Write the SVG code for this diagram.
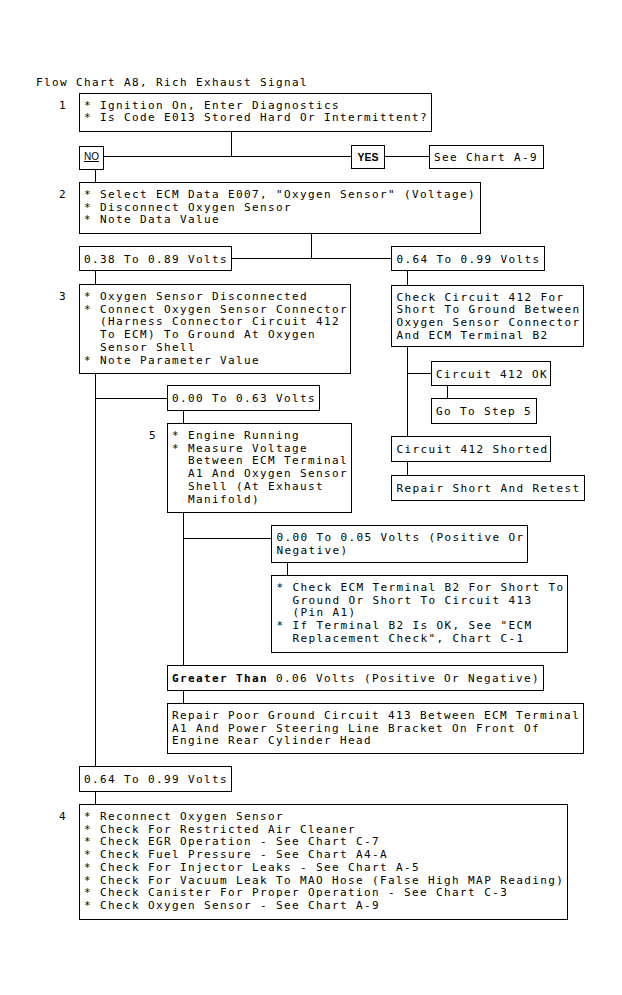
<svg xmlns="http://www.w3.org/2000/svg" width="622" height="995" viewBox="0 0 622 995">
<style>
  text { font-family: "DejaVu Sans Mono", "Liberation Mono", monospace; font-size: 11px; letter-spacing: 1.38px; fill: #000; }
  .box { fill: #fff; stroke: #000; stroke-width: 1; }
  .wire { fill: none; stroke: #000; stroke-width: 1; }
  .no { font-family: "Liberation Sans", Arial, sans-serif; font-size: 10px; letter-spacing: 0; text-decoration: underline; }
  .yes { font-family: "Liberation Sans", Arial, sans-serif; font-size: 10.5px; letter-spacing: 0; font-weight: bold; }
  .b { font-weight: bold; }
</style>
<rect x="0" y="0" width="622" height="995" fill="#fff"/>
<text id="title" x="36" y="85.5">Flow Chart A8, Rich Exhaust Signal</text>

<g id="connectors" class="wire">
  <path d="M231.5 131.5 V156.5"/>
  <path d="M103.5 156.5 H351.5"/>
  <path d="M384.5 156.5 H429.5"/>
  <path d="M95.5 169.5 V182.5"/>
  <path d="M311.5 233.5 V258.5"/>
  <path d="M231.5 258.5 H391.5"/>
  <path d="M95.5 270.5 V284.5"/>
  <path d="M407.5 270.5 V285.5"/>
  <path d="M407.5 346.5 V436.5"/>
  <path d="M407.5 373.5 H431.5"/>
  <path d="M447.5 385.5 V398.5"/>
  <path d="M407.5 461.5 V475.5"/>
  <path d="M95.5 373.5 V766.5"/>
  <path d="M95.5 398.5 H167.5"/>
  <path d="M183.5 410.5 V423.5"/>
  <path d="M183.5 512.5 V665.5"/>
  <path d="M183.5 538.5 H271.5"/>
  <path d="M287.5 562.5 V575.5"/>
  <path d="M183.5 690.5 V703.5"/>
  <path d="M95.5 791.5 V804.5"/>
</g>

<g id="step1">
  <text x="59" y="108.5">1</text>
  <rect class="box" x="79.5" y="93.5" width="352" height="38"/>
  <text x="84" y="108.5">* Ignition On, Enter Diagnostics</text>
  <text x="84" y="121.2">* Is Code E013 Stored Hard Or Intermittent?</text>
</g>

<g id="no">
  <rect class="box" x="79.5" y="146.5" width="24" height="23"/>
  <text class="no" x="91.5" y="160" text-anchor="middle">NO</text>
</g>

<g id="yes">
  <rect class="box" x="351.5" y="145.5" width="33" height="23"/>
  <text class="yes" x="368" y="160.5" text-anchor="middle">YES</text>
</g>

<g id="seeA9">
  <rect class="box" x="429.5" y="145.5" width="114" height="23"/>
  <text x="434" y="161">See Chart A-9</text>
</g>

<g id="step2">
  <text x="59" y="198">2</text>
  <rect class="box" x="79.5" y="182.5" width="401" height="51"/>
  <text x="84" y="198">* Select ECM Data E007, "Oxygen Sensor" (Voltage)</text>
  <text x="84" y="210.7">* Disconnect Oxygen Sensor</text>
  <text x="84" y="223.4">* Note Data Value</text>
</g>

<g id="v038">
  <rect class="box" x="79.5" y="246.5" width="152" height="24"/>
  <text x="84" y="262.5">0.38 To 0.89 Volts</text>
</g>

<g id="v064a">
  <rect class="box" x="391.5" y="246.5" width="153" height="24"/>
  <text x="396.5" y="262.5">0.64 To 0.99 Volts</text>
</g>

<g id="step3">
  <text x="59" y="300">3</text>
  <rect class="box" x="79.5" y="284.5" width="271" height="89"/>
  <text x="84" y="300">* Oxygen Sensor Disconnected</text>
  <text x="84" y="312.7">* Connect Oxygen Sensor Connector</text>
  <text x="100" y="325.4">(Harness Connector Circuit 412</text>
  <text x="100" y="338.1">To ECM) To Ground At Oxygen</text>
  <text x="100" y="350.8">Sensor Shell</text>
  <text x="84" y="363.5">* Note Parameter Value</text>
</g>

<g id="check412">
  <rect class="box" x="391.5" y="285.5" width="192" height="61"/>
  <text x="396.5" y="300.5">Check Circuit 412 For</text>
  <text x="396.5" y="313.2">Short To Ground Between</text>
  <text x="396.5" y="325.9">Oxygen Sensor Connector</text>
  <text x="396.5" y="338.6">And ECM Terminal B2</text>
</g>

<g id="ok412">
  <rect class="box" x="431.5" y="361.5" width="119" height="24"/>
  <text x="436" y="377.5">Circuit 412 OK</text>
</g>

<g id="gostep5">
  <rect class="box" x="431.5" y="398.5" width="105" height="25"/>
  <text x="436" y="415">Go To Step 5</text>
</g>

<g id="shorted412">
  <rect class="box" x="391.5" y="436.5" width="159" height="25"/>
  <text x="396.5" y="453">Circuit 412 Shorted</text>
</g>

<g id="repairShort">
  <rect class="box" x="391.5" y="475.5" width="193" height="25"/>
  <text x="396.5" y="491.5">Repair Short And Retest</text>
</g>

<g id="v000">
  <rect class="box" x="167.5" y="385.5" width="152" height="25"/>
  <text x="172" y="402">0.00 To 0.63 Volts</text>
</g>

<g id="step5">
  <text x="149" y="439">5</text>
  <rect class="box" x="167.5" y="423.5" width="184" height="89"/>
  <text x="172" y="439">* Engine Running</text>
  <text x="172" y="451.7">* Measure Voltage</text>
  <text x="188" y="464.4">Between ECM Terminal</text>
  <text x="188" y="477.1">A1 And Oxygen Sensor</text>
  <text x="188" y="489.8">Shell (At Exhaust</text>
  <text x="188" y="502.5">Manifold)</text>
</g>

<g id="v005">
  <rect class="box" x="271.5" y="525.5" width="256" height="37"/>
  <text x="276.5" y="541">0.00 To 0.05 Volts (Positive Or</text>
  <text x="276.5" y="553.7">Negative)</text>
</g>

<g id="checkB2">
  <rect class="box" x="271.5" y="575.5" width="296" height="77"/>
  <text x="276.5" y="591">* Check ECM Terminal B2 For Short To</text>
  <text x="292.5" y="603.7">Ground Or Short To Circuit 413</text>
  <text x="292.5" y="616.4">(Pin A1)</text>
  <text x="276.5" y="629.1">* If Terminal B2 Is OK, See "ECM</text>
  <text x="292.5" y="641.8">Replacement Check", Chart C-1</text>
</g>

<g id="greater">
  <rect class="box" x="167.5" y="665.5" width="376" height="25"/>
  <text x="172" y="681.5"><tspan class="b">Greater Than</tspan> 0.06 Volts (Positive Or Negative)</text>
</g>

<g id="repairGround">
  <rect class="box" x="167.5" y="703.5" width="416" height="50"/>
  <text x="172" y="719">Repair Poor Ground Circuit 413 Between ECM Terminal</text>
  <text x="172" y="731.7">A1 And Power Steering Line Bracket On Front Of</text>
  <text x="172" y="744.4">Engine Rear Cylinder Head</text>
</g>

<g id="v064b">
  <rect class="box" x="79.5" y="766.5" width="152" height="25"/>
  <text x="84" y="782.5">0.64 To 0.99 Volts</text>
</g>

<g id="step4">
  <text x="59" y="820">4</text>
  <rect class="box" x="79.5" y="804.5" width="488" height="115"/>
  <text x="84" y="820">* Reconnect Oxygen Sensor</text>
  <text x="84" y="832.7">* Check For Restricted Air Cleaner</text>
  <text x="84" y="845.4">* Check EGR Operation - See Chart C-7</text>
  <text x="84" y="858.1">* Check Fuel Pressure - See Chart A4-A</text>
  <text x="84" y="870.8">* Check For Injector Leaks - See Chart A-5</text>
  <text x="84" y="883.5">* Check For Vacuum Leak To MAO Hose (False High MAP Reading)</text>
  <text x="84" y="896.2">* Check Canister For Proper Operation - See Chart C-3</text>
  <text x="84" y="908.9">* Check Oxygen Sensor - See Chart A-9</text>
</g>
</svg>
